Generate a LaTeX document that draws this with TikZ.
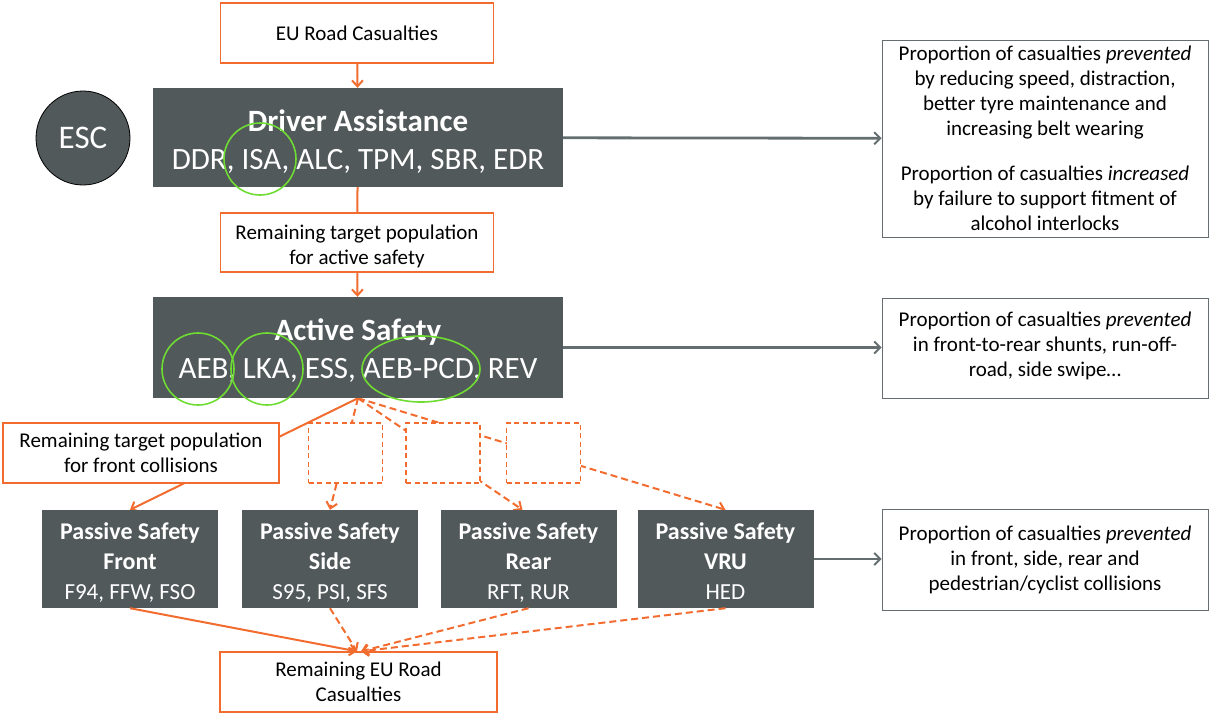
\documentclass[tikz,border=0pt]{standalone}
\usepackage{fontspec}
\setmainfont{Carlito}
\usetikzlibrary{arrows.meta,shapes.geometric}
\pgfdeclarelayer{bg}
\pgfsetlayers{bg,main}
\definecolor{org}{RGB}{242,108,48}
\definecolor{dk}{RGB}{82,89,91}
\definecolor{grn}{RGB}{110,220,50}
\definecolor{gline}{RGB}{100,110,112}
\newcommand{\toppush}[1]{\rule{0pt}{#1}}
\begin{document}
\begin{tikzpicture}[x=1pt,y=-1pt,
  obox/.style={draw=org,line width=1.3pt,fill=white,inner sep=0pt,align=center,font=\fontsize{21}{25}\selectfont},
  dbox/.style={draw=org,line width=1.1pt,dash pattern=on 5pt off 3.5pt,fill=white,inner sep=0pt,minimum width=74,minimum height=60},
  bigbox/.style={fill=dk,text=white,inner sep=0pt,align=center,minimum width=410,font=\fontsize{31}{38}\selectfont},
  pbox/.style={fill=dk,text=white,inner sep=0pt,align=center,minimum width=176,minimum height=98,font=\fontsize{24}{30}\selectfont},
  rbox/.style={draw=gline,line width=0.8pt,fill=white,inner sep=0pt,align=center,minimum width=326,font=\fontsize{21}{25}\selectfont},
  ring/.style={draw=grn,line width=1.6pt,inner sep=0pt},
  oarr/.style={draw=org,line width=2pt,-{Straight Barb[length=6pt,width=11pt,line width=2pt]}},
  oline/.style={draw=org,line width=2pt},
  odash/.style={oarr,dash pattern=on 7pt off 4pt},
  garr/.style={draw=gline,line width=2.8pt,-{Straight Barb[length=6pt,width=12pt,line width=2pt]}}
]
\useasboundingbox (0,0) rectangle (1210,715);
% main nodes
\node[obox,minimum width=273,minimum height=60] (eu) at (357,33) {EU Road Casualties};
\node[bigbox,minimum height=99] (da) at (358,137.5) {\toppush{30pt}\textbf{Driver Assistance}\\DDR, ISA, ALC, TPM, SBR, EDR};
\node[circle,draw=black,line width=0.8pt,fill=dk,text=white,minimum size=94,inner sep=0pt,font=\fontsize{33}{36}\selectfont] (esc) at (83,138) {ESC};
\node[obox,minimum width=273,minimum height=59] (rem1) at (357,242.5) {\toppush{22pt}Remaining target population\\for active safety};
\node[bigbox,minimum height=101] (as) at (358,347.5) {\toppush{28pt}\textbf{Active Safety}\\AEB, LKA, ESS, AEB-PCD, REV};
\node[obox,minimum width=276,minimum height=60] (fpop) at (141,453) {Remaining target population\\for front collisions};
\node[dbox] (d1) at (345.5,453) {};
\node[dbox] (d2) at (443,453) {};
\node[dbox] (d3) at (543.5,453) {};
\node[pbox] (pf) at (130,559) {\toppush{29pt}\textbf{Passive Safety}\\\textbf{Front}\\{\fontsize{23}{30}\selectfont F94, FFW, FSO}\strut};
\node[pbox] (ps) at (330,559) {\toppush{29pt}\textbf{Passive Safety}\\\textbf{Side}\\{\fontsize{23}{30}\selectfont S95, PSI, SFS}\strut};
\node[pbox] (pr) at (528.5,559) {\toppush{29pt}\textbf{Passive Safety}\\\textbf{Rear}\\{\fontsize{23}{30}\selectfont RFT, RUR}\strut};
\node[pbox] (pv) at (725.5,559) {\toppush{29pt}\textbf{Passive Safety}\\\textbf{VRU}\\{\fontsize{23}{30}\selectfont HED}\strut};
\node[obox,minimum width=277,minimum height=60] (rem2) at (358.5,682) {Remaining EU Road\\Casualties};
\node[rbox,minimum height=197] (r1) at (1045,138.5) {Proportion of casualties \textit{prevented}\\by reducing speed, distraction,\\better tyre maintenance and\\increasing belt wearing\\[20pt]Proportion of casualties \textit{increased}\\by failure to support fitment of\\alcohol interlocks};
\node[rbox,minimum height=100] (r2) at (1045,348) {Proportion of casualties \textit{prevented}\\in front-to-rear shunts, run-off-\\road, side swipe\dots\strut};
\node[rbox,minimum height=101] (r3) at (1045,559.5) {Proportion of casualties \textit{prevented}\\in front, side, rear and\\pedestrian/cyclist collisions};
% green rings
\node[ring,circle,minimum size=72] (gisa) at (260,159) {};
\node[ring,circle,minimum size=72] (gaeb) at (198,369) {};
\node[ring,circle,minimum size=72] (glka) at (267,369) {};
\node[ring,ellipse,minimum width=118,minimum height=66] (gpcd) at (421,369) {};
% connectors
\draw[oarr] (eu) -- (da);
\draw[oline] (da) -- (rem1);
\draw[oarr] (rem1) -- (as);
\draw[garr] (da) -- (r1);
\draw[garr] (as.east) -- (as.east -| r2.west);
\draw[garr] (pv.east) -- (pv.east -| r3.west);
\begin{pgfonlayer}{bg}
\draw[oarr] (as.south) -- (pf.north);
\draw[odash] (as.south) -- (ps.north);
\draw[odash] (as.south) -- ([xshift=-6pt]pr.north);
\draw[odash] (as.south) -- (pv.north);
\end{pgfonlayer}
\coordinate (tgt) at ([xshift=-1.5pt]rem2.north);
\draw[oarr] (pf.south) -- (tgt);
\draw[odash] (ps.south) -- (tgt);
\draw[odash] (pr.south) -- ([xshift=4pt]tgt);
\draw[odash] (pv.south) -- ([xshift=4pt]tgt);
\end{tikzpicture}
\end{document}
